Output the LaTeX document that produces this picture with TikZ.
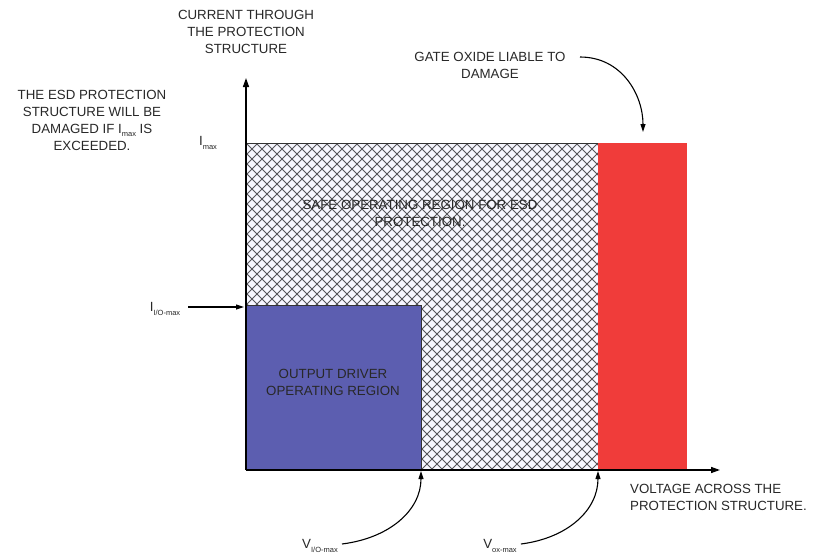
\documentclass[tikz,border=0pt]{standalone}
\usepackage{fontspec}
\setmainfont{Liberation Sans}
\usetikzlibrary{arrows.meta}
\definecolor{hatchgray}{RGB}{85,85,90}
\definecolor{drvblue}{RGB}{92,94,176}
\definecolor{oxred}{RGB}{240,60,58}
\definecolor{txtgray}{RGB}{40,40,40}
\newcommand\lowsub[1]{\raisebox{-0.5ex}{\fontsize{7.5}{7.5}\selectfont #1}}
\begin{document}
\begin{tikzpicture}[x=1pt,y=-1pt,
  lbl/.style={font=\fontsize{13.3}{17}\selectfont, text=txtgray, align=center, inner sep=0pt},
  axis/.style={line width=1.4pt, -{Triangle[length=9pt,width=6pt]}},
  pointer/.style={line width=1.1pt, -{Triangle[length=8pt,width=5pt]}},
  region/.style={draw=black!80, line width=0.9pt}]
\useasboundingbox (0,0) rectangle (828,560);
\fill[white] (0,0) rectangle (828,560);
\coordinate (O) at (246,470);
% hatched safe region
\begin{scope}
  \clip (246,143) rectangle (598,470);
  \fill[blue!3] (246,143) rectangle (598,470);
  \foreach \k in {-400,-390,...,400} {
    \draw[hatchgray, line width=1pt] (246+\k,143) -- ++(340,340);
    \draw[hatchgray, line width=1pt] (598+\k,143) -- ++(-340,340);
  }
\end{scope}
\draw[region] (246,143) rectangle (598,470);
% red region
\fill[oxred] (598,143) rectangle (687,470);
% blue region
\fill[drvblue, draw=black!80, line width=0.9pt] (246,305) rectangle (421,470);
% axes
\coordinate (ytip) at (246,78);
\coordinate (xtip) at (720,470);
\draw[axis] (O) -- (ytip);
\draw[axis] (O) -- (xtip);
% texts
\node[lbl] (ytitle) at (246,32) {CURRENT THROUGH\\THE PROTECTION\\STRUCTURE};
\node[lbl] (esd) at (92,120) {THE ESD PROTECTION\\STRUCTURE WILL BE\\DAMAGED IF I\lowsub{max} IS\\EXCEEDED.};
\node[lbl] (imax) at (208,143) {I\lowsub{max}};
\node[lbl] (iio) at (165,309) {I\lowsub{I/O-max}};
\node[lbl] (safe) at (420,213) {SAFE OPERATING REGION FOR ESD\\PROTECTION.};
\node[lbl] (drv) at (333,382) {OUTPUT DRIVER\\OPERATING REGION};
\node[lbl] (gate) at (490,65) {GATE OXIDE LIABLE TO\\DAMAGE};
\node[lbl, align=left, anchor=west] (xtitle) at (630,497) {VOLTAGE ACROSS THE\\PROTECTION STRUCTURE.};
\node[lbl] (vio) at (320,546) {V\lowsub{I/O-max}};
\node[lbl] (vox) at (500,546) {V\lowsub{ox-max}};
% pointers
\coordinate (iioend) at (244,307);
\coordinate (vioend) at (421,471);
\coordinate (voxend) at (598,471);
\coordinate (gateend) at (643,132);
\coordinate (iiostart) at (188,307);
\coordinate (gatestart) at (580,57);
\draw[pointer] (iiostart) -- (iioend);
\draw[pointer] (vio.east) ++(4,-2) .. controls (390,538) and (421,510) .. (vioend);
\draw[pointer] (vox.east) ++(4,-2) .. controls (568,538) and (598,510) .. (voxend);
\draw[pointer] (gatestart) .. controls (622,57) and (643,95) .. (gateend);
\end{tikzpicture}
\end{document}
